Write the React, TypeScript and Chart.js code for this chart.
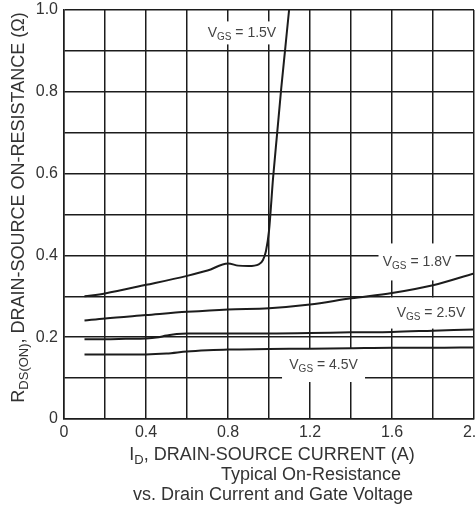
import { useEffect, useRef } from 'react';
import { Chart, registerables } from 'chart.js';

Chart.register(...registerables);

const FONT = '"Liberation Sans", Arial, Helvetica, sans-serif';
const INK = '#1c1c1c';
const TEXT = '#333333';

// Drain current (A) and on-resistance (Ω) for each gate voltage
const current15 = [0.1, 0.2, 0.4, 0.6, 0.7, 0.8, 0.85, 0.9, 0.95, 0.97, 0.985, 1.0, 1.02, 1.04, 1.06, 1.08, 1.1, 1.12];
const rds15 = [0.3, 0.307, 0.328, 0.35, 0.363, 0.38, 0.375, 0.374, 0.378, 0.388, 0.41, 0.46, 0.59, 0.7, 0.81, 0.91, 1.01, 1.1];

const current18 = [0.1, 0.2, 0.4, 0.6, 0.8, 1.0, 1.2, 1.4, 1.6, 1.8, 2.0];
const rds18 = [0.241, 0.246, 0.254, 0.262, 0.268, 0.271, 0.28, 0.295, 0.308, 0.327, 0.356];

const current25 = [0.1, 0.2, 0.3, 0.4, 0.45, 0.5, 0.55, 0.6, 0.8, 1.0, 1.2, 1.4, 1.6, 1.8, 2.0];
const rds25 = [0.195, 0.195, 0.196, 0.197, 0.199, 0.204, 0.208, 0.209, 0.209, 0.209, 0.21, 0.212, 0.213, 0.216, 0.219];

const current45 = [0.1, 0.2, 0.4, 0.5, 0.6, 0.7, 0.8, 1.0, 1.2, 1.4, 1.6, 1.8, 2.0];
const rds45 = [0.158, 0.158, 0.158, 0.16, 0.165, 0.168, 0.17, 0.171, 0.172, 0.173, 0.174, 0.174, 0.175];

// Axis tick labels
const xTickValues = [0, 0.4, 0.8, 1.2, 1.6, 2.0];
const xTickText = ['0', '0.4', '0.8', '1.2', '1.6', '2.0'];
const yTickValues = [0, 0.2, 0.4, 0.6, 0.8, 1.0];
const yTickText = ['0', '0.2', '0.4', '0.6', '0.8', '1.0'];

// Gate-voltage tags placed on the grid (anchor in data units)
const tagText = ['1.5V', '1.8V', '2.5V', '4.5V'];
const tagCurrent = [0.868, 1.722, 1.79, 1.266];
const tagRds = [0.944, 0.384, 0.259, 0.132];
const tagBox = [
  { w: 82, h: 23 },
  { w: 77, h: 37 },
  { w: 82, h: 31 },
  { w: 83, h: 34 },
];

type Part = { t: string; size: number; dy?: number };

function drawParts(ctx: CanvasRenderingContext2D, parts: Part[], cx: number, cy: number) {
  let total = 0;
  for (const p of parts) {
    ctx.font = `${p.size}px ${FONT}`;
    total += ctx.measureText(p.t).width;
  }
  let x = cx - total / 2;
  ctx.textAlign = 'left';
  ctx.textBaseline = 'middle';
  for (const p of parts) {
    ctx.font = `${p.size}px ${FONT}`;
    ctx.fillText(p.t, x, cy + (p.dy || 0));
    x += ctx.measureText(p.t).width;
  }
}

const tagsPlugin = {
  id: 'vgsTags',
  beforeDatasetsDraw(chart: any) {
    const { ctx, scales } = chart;
    ctx.save();
    tagText.forEach((t, i) => {
      const px = scales.x.getPixelForValue(tagCurrent[i]);
      const py = scales.y.getPixelForValue(tagRds[i]);
      const b = tagBox[i];
      ctx.fillStyle = '#ffffff';
      ctx.fillRect(px - b.w / 2, py - b.h / 2, b.w, b.h);
      ctx.fillStyle = '#444444';
      drawParts(ctx, [
        { t: 'V', size: 14 },
        { t: 'GS', size: 10, dy: 4 },
        { t: ' = ' + t, size: 14 },
      ], px, py);
    });
    ctx.restore();
  },
};

const captionPlugin = {
  id: 'captions',
  afterDraw(chart: any) {
    const { ctx, chartArea } = chart;
    const mid = (chartArea.left + chartArea.right) / 2;
    ctx.save();
    ctx.fillStyle = TEXT;
    drawParts(ctx, [
      { t: 'I', size: 18 },
      { t: 'D', size: 13, dy: 5 },
      { t: ', DRAIN-SOURCE CURRENT (A)', size: 18 },
    ], mid + 3, chartArea.bottom + 36);
    drawParts(ctx, [{ t: 'Typical On-Resistance', size: 18 }], mid + 42, chartArea.bottom + 56);
    drawParts(ctx, [{ t: 'vs. Drain Current and Gate Voltage', size: 18 }], mid + 4, chartArea.bottom + 76);

    ctx.translate(19, (chartArea.top + chartArea.bottom) / 2 - 7);
    ctx.rotate(-Math.PI / 2);
    drawParts(ctx, [
      { t: 'R', size: 18 },
      { t: 'DS(ON)', size: 13, dy: 5 },
      { t: ', DRAIN-SOURCE ON-RESISTANCE (Ω)', size: 18 },
    ], 0, 0);
    ctx.restore();
  },
};

function pickLabel(v: number, values: number[], text: string[]) {
  const i = values.findIndex((x) => Math.abs(x - v) < 1e-6);
  return i >= 0 ? text[i] : '';
}

function series(x: number[], y: number[]) {
  return x.map((xv, i) => ({ x: xv, y: y[i] }));
}

export default function App() {
  const ref = useRef<HTMLCanvasElement | null>(null);

  useEffect(() => {
    if (!ref.current) return;
    const lineStyle = {
      borderColor: INK,
      borderWidth: 2,
      pointRadius: 0,
      fill: false,
      cubicInterpolationMode: 'monotone' as const,
    };
    const chart = new Chart(ref.current, {
      type: 'line',
      data: {
        datasets: [
          { label: 'VGS = 1.5V', data: series(current15, rds15), ...lineStyle },
          { label: 'VGS = 1.8V', data: series(current18, rds18), ...lineStyle },
          { label: 'VGS = 2.5V', data: series(current25, rds25), ...lineStyle },
          { label: 'VGS = 4.5V', data: series(current45, rds45), ...lineStyle },
        ],
      },
      options: {
        animation: false,
        responsive: false,
        events: [],
        layout: { padding: { top: 10, left: 0, right: 2, bottom: 0 } },
        plugins: { legend: { display: false }, tooltip: { enabled: false } },
        scales: {
          x: {
            type: 'linear',
            min: 0,
            max: 2,
            grid: { color: INK, lineWidth: 1.5, drawTicks: false },
            border: { color: INK, width: 1.5 },
            ticks: {
              stepSize: 0.2,
              padding: 4,
              maxRotation: 0,
              autoSkip: false,
              color: TEXT,
              font: { family: FONT, size: 16 },
              callback: (v: any) => pickLabel(Number(v), xTickValues, xTickText),
            },
            afterFit: (s: any) => {
              s.height = 87;
              s.paddingLeft = 0;
              s.paddingRight = 0;
            },
          },
          y: {
            type: 'linear',
            min: 0,
            max: 1,
            grid: { color: INK, lineWidth: 1.5, drawTicks: false },
            border: { color: INK, width: 1.5 },
            ticks: {
              stepSize: 0.1,
              padding: 6,
              autoSkip: false,
              color: TEXT,
              font: { family: FONT, size: 16 },
              callback: (v: any) => pickLabel(Number(v), yTickValues, yTickText),
            },
            afterFit: (s: any) => {
              s.width = 64;
              s.paddingTop = 0;
              s.paddingBottom = 0;
            },
          },
        },
      },
      plugins: [tagsPlugin, captionPlugin],
    });
    return () => chart.destroy();
  }, []);

  return (
    <div style={{ position: 'fixed', left: 0, top: 0, width: 476, height: 506, background: '#fff' }}>
      <canvas ref={ref} width={476} height={506} />
    </div>
  );
}
